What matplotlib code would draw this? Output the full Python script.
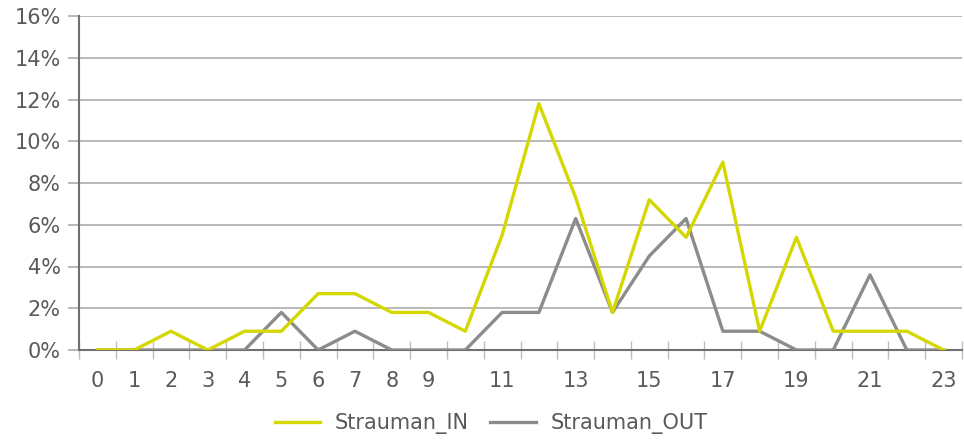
import matplotlib
matplotlib.use('Agg')
import matplotlib.pyplot as plt
from matplotlib.ticker import FuncFormatter, FixedLocator

hours = list(range(24))
tick_labels = ['0', '1', '2', '3', '4', '5', '6', '7', '8', '9', '',
               '11', '', '13', '', '15', '', '17', '', '19', '', '21', '', '23']
strauman_in = [0.0, 0.0, 0.9, 0.0, 0.9, 0.9, 2.7, 2.7, 1.8, 1.8, 0.9, 5.5,
               11.8, 7.3, 1.8, 7.2, 5.4, 9.0, 0.9, 5.4, 0.9, 0.9, 0.9, 0.0]
strauman_out = [0.0, 0.0, 0.0, 0.0, 0.0, 1.8, 0.0, 0.9, 0.0, 0.0, 0.0, 1.8,
                1.8, 6.3, 1.8, 4.5, 6.3, 0.9, 0.9, 0.0, 0.0, 3.6, 0.0, 0.0]

W, H = 964, 446
fig = plt.figure(figsize=(W / 100, H / 100), dpi=100)
ax = fig.add_axes([79 / W, 1 - 350 / H, (962 - 79) / W, (350 - 16) / H])

grid_col = '#a6a6a6'
text_col = '#5a5a5a'

# horizontal gridlines
for v in range(0, 17, 2):
    ax.axhline(v, color=grid_col, lw=1.1, zorder=1)

ax.plot(hours, strauman_out, color='#8c8c8c', lw=2.4, label='Strauman_OUT', zorder=3)
ax.plot(hours, strauman_in, color='#d4d800', lw=2.4, label='Strauman_IN', zorder=4)

ax.set_xlim(-0.5, 23.5)
ax.set_ylim(0, 16)
ax.set_yticks(range(0, 17, 2))
ax.yaxis.set_major_formatter(FuncFormatter(lambda v, p: '%d%%' % v))
ax.tick_params(axis='y', direction='out', length=8, width=1.1, color=grid_col,
               labelsize=15, labelcolor=text_col, pad=5)

ax.set_xticks(hours)
ax.set_xticklabels(tick_labels)
ax.tick_params(axis='x', which='major', length=0, labelsize=15, labelcolor=text_col, pad=15)
ax.xaxis.set_minor_locator(FixedLocator([h + 0.5 for h in range(-1, 24)]))
ax.tick_params(axis='x', which='minor', direction='inout', length=13, width=1.0, color='#bdbdbd')

for s in ['top', 'right']:
    ax.spines[s].set_visible(False)
ax.spines['left'].set_color('#707070')
ax.spines['left'].set_linewidth(1.5)
ax.spines['bottom'].set_color('#707070')
ax.spines['bottom'].set_linewidth(1.5)
ax.spines['bottom'].set_zorder(2)

handles, labels = ax.get_legend_handles_labels()
fig.legend(handles[::-1], labels[::-1], loc='center', bbox_to_anchor=(491 / W, 1 - 424 / H),
           ncol=2, frameon=False, fontsize=15, handlelength=2.2, handletextpad=0.7,
           columnspacing=1.0, labelcolor=text_col)

fig.savefig('out.png', dpi=100)
